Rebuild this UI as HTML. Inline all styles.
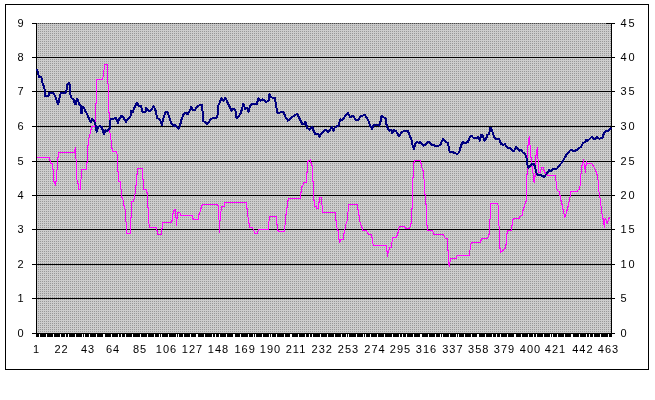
<!DOCTYPE html>
<html><head><meta charset="utf-8"><title>Chart</title>
<style>
html,body{margin:0;padding:0;background:#fff;}
body{width:655px;height:400px;overflow:hidden;}
svg{display:block;}
text{font-family:"Liberation Sans",sans-serif;font-size:11px;fill:#000;letter-spacing:1px;}
</style></head><body>
<svg width="655" height="400" viewBox="0 0 655 400">
<defs>
<pattern id="dots" x="0" y="0" width="2" height="2" patternUnits="userSpaceOnUse">
<rect x="0" y="0" width="2" height="2" fill="#cccccc"/>
<rect x="0" y="1" width="1" height="1" fill="#979797"/>
</pattern>
<pattern id="topdots" x="0" y="0" width="2" height="1" patternUnits="userSpaceOnUse">
<rect x="0" y="0" width="2" height="1" fill="#909090"/>
<rect x="0" y="0" width="1" height="1" fill="#484848"/>
</pattern>
</defs>
<rect x="0" y="0" width="655" height="400" fill="#fff"/>
<g shape-rendering="crispEdges">
<rect x="5.5" y="4.5" width="643" height="365" fill="#fff" stroke="#000" stroke-width="1"/>
<rect x="37" y="24" width="574" height="309" fill="url(#dots)"/>
<rect x="37" y="23" width="574" height="1" fill="url(#topdots)"/>

<rect x="37" y="57" width="574" height="1" fill="#000"/>
<rect x="37" y="91" width="574" height="1" fill="#000"/>
<rect x="37" y="126" width="574" height="1" fill="#000"/>
<rect x="37" y="161" width="574" height="1" fill="#000"/>
<rect x="37" y="195" width="574" height="1" fill="#000"/>
<rect x="37" y="229" width="574" height="1" fill="#000"/>
<rect x="37" y="264" width="574" height="1" fill="#000"/>
<rect x="37" y="298" width="574" height="1" fill="#000"/>
<rect x="36" y="23" width="1" height="311" fill="#000"/>
<rect x="611" y="23" width="1" height="311" fill="#000"/>
<rect x="32" y="333" width="583" height="1" fill="#000"/>
<rect x="32" y="23" width="4" height="1" fill="#000"/>
<rect x="612" y="23" width="3" height="1" fill="#000"/>
<rect x="32" y="57" width="4" height="1" fill="#000"/>
<rect x="612" y="57" width="3" height="1" fill="#000"/>
<rect x="32" y="91" width="4" height="1" fill="#000"/>
<rect x="612" y="91" width="3" height="1" fill="#000"/>
<rect x="32" y="126" width="4" height="1" fill="#000"/>
<rect x="612" y="126" width="3" height="1" fill="#000"/>
<rect x="32" y="161" width="4" height="1" fill="#000"/>
<rect x="612" y="161" width="3" height="1" fill="#000"/>
<rect x="32" y="195" width="4" height="1" fill="#000"/>
<rect x="612" y="195" width="3" height="1" fill="#000"/>
<rect x="32" y="229" width="4" height="1" fill="#000"/>
<rect x="612" y="229" width="3" height="1" fill="#000"/>
<rect x="32" y="264" width="4" height="1" fill="#000"/>
<rect x="612" y="264" width="3" height="1" fill="#000"/>
<rect x="32" y="298" width="4" height="1" fill="#000"/>
<rect x="612" y="298" width="3" height="1" fill="#000"/>
<rect x="606" y="23" width="5" height="1" fill="#000"/>
<path d="M36 334h3v3h-3zM40 334h6v3h-6zM47 334h6v3h-6zM54 334h6v3h-6zM61 334h4v3h-4zM66 334h2v3h-2zM69 334h6v3h-6zM76 334h6v3h-6zM83 334h1v3h-1zM85 334h4v3h-4zM90 334h6v3h-6zM97 334h6v3h-6zM105 334h6v3h-6zM112 334h6v3h-6zM119 334h2v3h-2zM122 334h3v3h-3zM126 334h6v3h-6zM133 334h7v3h-7zM141 334h6v3h-6zM148 334h6v3h-6zM155 334h4v3h-4zM160 334h1v3h-1zM162 334h6v3h-6zM169 334h7v3h-7zM177 334h1v3h-1zM179 334h4v3h-4zM184 334h6v3h-6zM191 334h5v3h-5zM198 334h6v3h-6zM205 334h7v3h-7zM213 334h2v3h-2zM216 334h3v3h-3zM220 334h6v3h-6zM227 334h6v3h-6zM235 334h5v3h-5zM241 334h7v3h-7zM249 334h4v3h-4zM254 334h1v3h-1zM256 334h6v3h-6zM263 334h6v3h-6zM270 334h1v3h-1zM272 334h4v3h-4zM277 334h7v3h-7zM285 334h5v3h-5zM292 334h6v3h-6zM299 334h6v3h-6zM306 334h3v3h-3zM310 334h2v3h-2zM313 334h7v3h-7zM321 334h6v3h-6zM328 334h6v3h-6zM335 334h6v3h-6zM342 334h4v3h-4zM347 334h1v3h-1zM349 334h7v3h-7zM357 334h6v3h-6zM364 334h1v3h-1zM366 334h4v3h-4zM371 334h6v3h-6zM378 334h6v3h-6zM385 334h7v3h-7zM393 334h6v3h-6zM400 334h2v3h-2zM403 334h3v3h-3zM407 334h6v3h-6zM414 334h6v3h-6zM422 334h6v3h-6zM429 334h6v3h-6zM436 334h4v3h-4zM441 334h1v3h-1zM443 334h6v3h-6zM450 334h6v3h-6zM457 334h1v3h-1zM459 334h5v3h-5zM465 334h6v3h-6zM472 334h5v3h-5zM479 334h6v3h-6zM486 334h6v3h-6zM493 334h3v3h-3zM497 334h3v3h-3zM501 334h6v3h-6zM508 334h6v3h-6zM516 334h5v3h-5zM522 334h6v3h-6zM529 334h4v3h-4zM534 334h2v3h-2zM537 334h6v3h-6zM544 334h6v3h-6zM551 334h1v3h-1zM553 334h4v3h-4zM558 334h6v3h-6zM565 334h6v3h-6zM573 334h6v3h-6zM580 334h6v3h-6zM587 334h2v3h-2zM590 334h3v3h-3zM594 334h6v3h-6zM601 334h7v3h-7zM609 334h3v3h-3z" fill="#000"/>
</g>
<path d="M37 157h1v1h-1zM38 157h1v1h-1zM39 157h1v1h-1zM40 157h1v1h-1zM41 157h1v1h-1zM42 157h1v1h-1zM43 157h1v1h-1zM44 157h1v1h-1zM45 157h1v1h-1zM46 157h1v1h-1zM47 157h1v1h-1zM48 157h1v1h-1zM49 157h1v4h-1zM50 160h1v4h-1zM51 163h1v1h-1zM52 163h1v7h-1zM53 169h1v13h-1zM54 181h1v3h-1zM55 181h1v5h-1zM56 170h1v12h-1zM57 157h1v13h-1zM58 152h1v6h-1zM59 152h1v1h-1zM60 152h1v1h-1zM61 152h1v1h-1zM62 152h1v1h-1zM63 152h1v1h-1zM64 152h1v1h-1zM65 152h1v1h-1zM66 152h1v1h-1zM67 152h1v1h-1zM68 152h1v1h-1zM69 152h1v1h-1zM70 152h1v1h-1zM71 152h1v1h-1zM72 152h1v1h-1zM73 152h1v1h-1zM74 149h1v4h-1zM75 147h1v12h-1zM76 159h1v21h-1zM77 180h1v4h-1zM78 183h1v7h-1zM79 189h1v1h-1zM80 179h1v11h-1zM81 169h1v10h-1zM82 169h1v1h-1zM83 169h1v1h-1zM84 169h1v1h-1zM85 169h1v1h-1zM86 162h1v8h-1zM87 145h1v18h-1zM88 138h1v8h-1zM89 134h1v4h-1zM90 129h1v5h-1zM91 126h1v4h-1zM92 126h1v1h-1zM93 126h1v1h-1zM94 122h1v5h-1zM95 103h1v19h-1zM96 79h1v25h-1zM97 79h1v1h-1zM98 79h1v1h-1zM99 79h1v1h-1zM100 79h1v1h-1zM101 79h1v1h-1zM102 77h1v3h-1zM103 70h1v7h-1zM104 64h1v6h-1zM105 64h1v1h-1zM106 64h1v1h-1zM107 64h1v20h-1zM108 84h1v29h-1zM109 112h1v21h-1zM110 133h1v7h-1zM111 140h1v9h-1zM112 148h1v4h-1zM113 151h1v1h-1zM114 151h1v1h-1zM115 151h1v1h-1zM116 151h1v3h-1zM117 154h1v18h-1zM118 171h1v11h-1zM119 181h1v1h-1zM120 181h1v8h-1zM121 189h1v9h-1zM122 197h1v3h-1zM123 200h1v6h-1zM124 205h1v4h-1zM125 209h1v13h-1zM126 222h1v12h-1zM127 233h1v1h-1zM128 233h1v1h-1zM129 233h1v1h-1zM130 217h1v17h-1zM131 201h1v17h-1zM132 201h1v1h-1zM133 199h1v3h-1zM134 194h1v5h-1zM135 185h1v9h-1zM136 174h1v12h-1zM137 168h1v7h-1zM138 168h1v1h-1zM139 168h1v1h-1zM140 168h1v1h-1zM141 168h1v1h-1zM142 168h1v12h-1zM143 179h1v11h-1zM144 189h1v1h-1zM145 189h1v1h-1zM146 189h1v4h-1zM147 192h1v16h-1zM148 207h1v17h-1zM149 224h1v4h-1zM150 227h1v1h-1zM151 227h1v1h-1zM152 227h1v1h-1zM153 227h1v1h-1zM154 227h1v1h-1zM155 227h1v1h-1zM156 227h1v4h-1zM157 230h1v5h-1zM158 234h1v1h-1zM159 234h1v1h-1zM160 234h1v1h-1zM161 228h1v7h-1zM162 222h1v7h-1zM163 222h1v1h-1zM164 222h1v1h-1zM165 222h1v1h-1zM166 222h1v1h-1zM167 222h1v1h-1zM168 222h1v1h-1zM169 222h1v1h-1zM170 222h1v1h-1zM171 220h1v3h-1zM172 213h1v8h-1zM173 210h1v4h-1zM174 209h1v2h-1zM175 209h1v9h-1zM176 217h1v9h-1zM177 212h1v7h-1zM178 212h1v1h-1zM179 212h1v1h-1zM180 213h1v3h-1zM181 215h1v1h-1zM182 215h1v1h-1zM183 215h1v1h-1zM184 215h1v1h-1zM185 215h1v1h-1zM186 215h1v1h-1zM187 215h1v1h-1zM188 215h1v1h-1zM189 215h1v1h-1zM190 215h1v1h-1zM191 215h1v1h-1zM192 215h1v4h-1zM193 218h1v2h-1zM194 219h1v1h-1zM195 219h1v1h-1zM196 219h1v1h-1zM197 219h1v1h-1zM198 214h1v6h-1zM199 212h1v3h-1zM200 208h1v4h-1zM201 205h1v4h-1zM202 204h1v2h-1zM203 204h1v1h-1zM204 204h1v1h-1zM205 204h1v1h-1zM206 204h1v1h-1zM207 204h1v1h-1zM208 204h1v1h-1zM209 204h1v1h-1zM210 204h1v1h-1zM211 204h1v1h-1zM212 204h1v1h-1zM213 204h1v1h-1zM214 204h1v1h-1zM215 204h1v1h-1zM216 204h1v1h-1zM217 204h1v2h-1zM218 205h1v15h-1zM219 220h1v13h-1zM220 211h1v10h-1zM221 206h1v5h-1zM222 206h1v1h-1zM223 206h1v1h-1zM224 202h1v5h-1zM225 202h1v1h-1zM226 202h1v1h-1zM227 202h1v1h-1zM228 202h1v1h-1zM229 202h1v1h-1zM230 202h1v1h-1zM231 202h1v1h-1zM232 202h1v1h-1zM233 202h1v1h-1zM234 202h1v1h-1zM235 202h1v1h-1zM236 202h1v1h-1zM237 202h1v1h-1zM238 202h1v1h-1zM239 202h1v1h-1zM240 202h1v1h-1zM241 202h1v1h-1zM242 202h1v1h-1zM243 202h1v1h-1zM244 202h1v1h-1zM245 202h1v1h-1zM246 202h1v7h-1zM247 208h1v9h-1zM248 217h1v7h-1zM249 223h1v5h-1zM250 227h1v1h-1zM251 227h1v1h-1zM252 227h1v2h-1zM253 229h1v2h-1zM254 231h1v3h-1zM255 233h1v1h-1zM256 233h1v1h-1zM257 231h1v3h-1zM258 229h1v2h-1zM259 229h1v1h-1zM260 229h1v1h-1zM261 229h1v1h-1zM262 229h1v1h-1zM263 229h1v1h-1zM264 229h1v1h-1zM265 229h1v1h-1zM266 229h1v1h-1zM267 229h1v1h-1zM268 221h1v9h-1zM269 216h1v5h-1zM270 216h1v1h-1zM271 216h1v1h-1zM272 216h1v1h-1zM273 216h1v1h-1zM274 216h1v1h-1zM275 216h1v1h-1zM276 216h1v9h-1zM277 224h1v7h-1zM278 230h1v2h-1zM279 231h1v1h-1zM280 231h1v1h-1zM281 231h1v1h-1zM282 231h1v1h-1zM283 231h1v1h-1zM284 225h1v7h-1zM285 214h1v11h-1zM286 207h1v8h-1zM287 200h1v8h-1zM288 198h1v3h-1zM289 198h1v1h-1zM290 198h1v1h-1zM291 198h1v1h-1zM292 198h1v1h-1zM293 198h1v1h-1zM294 198h1v1h-1zM295 198h1v1h-1zM296 198h1v1h-1zM297 198h1v1h-1zM298 198h1v1h-1zM299 198h1v1h-1zM300 192h1v7h-1zM301 186h1v7h-1zM302 185h1v2h-1zM303 182h1v3h-1zM304 182h1v1h-1zM305 182h1v1h-1zM306 172h1v11h-1zM307 161h1v12h-1zM308 160h1v2h-1zM309 160h1v1h-1zM310 159h1v4h-1zM311 162h1v4h-1zM312 165h1v17h-1zM313 181h1v20h-1zM314 200h1v7h-1zM315 206h1v1h-1zM316 206h1v3h-1zM317 208h1v1h-1zM318 202h1v7h-1zM319 197h1v6h-1zM320 197h1v1h-1zM321 197h1v8h-1zM322 205h1v8h-1zM323 212h1v1h-1zM324 212h1v1h-1zM325 212h1v1h-1zM326 212h1v1h-1zM327 212h1v1h-1zM328 212h1v1h-1zM329 212h1v1h-1zM330 212h1v1h-1zM331 212h1v1h-1zM332 212h1v1h-1zM333 212h1v1h-1zM334 212h1v1h-1zM335 212h1v9h-1zM336 220h1v8h-1zM337 228h1v3h-1zM338 230h1v10h-1zM339 239h1v4h-1zM340 239h1v3h-1zM341 239h1v1h-1zM342 239h1v1h-1zM343 233h1v7h-1zM344 229h1v5h-1zM345 224h1v5h-1zM346 221h1v3h-1zM347 212h1v9h-1zM348 204h1v8h-1zM349 204h1v1h-1zM350 204h1v1h-1zM351 204h1v1h-1zM352 204h1v1h-1zM353 204h1v1h-1zM354 204h1v1h-1zM355 204h1v1h-1zM356 204h1v1h-1zM357 204h1v6h-1zM358 209h1v7h-1zM359 215h1v7h-1zM360 222h1v3h-1zM361 225h1v3h-1zM362 227h1v4h-1zM363 230h1v1h-1zM364 230h1v1h-1zM365 230h1v1h-1zM366 230h1v2h-1zM367 232h1v2h-1zM368 233h1v2h-1zM369 234h1v1h-1zM370 234h1v1h-1zM371 234h1v4h-1zM372 237h1v7h-1zM373 244h1v2h-1zM374 245h1v1h-1zM375 245h1v1h-1zM376 245h1v1h-1zM377 245h1v1h-1zM378 245h1v1h-1zM379 245h1v1h-1zM380 245h1v1h-1zM381 245h1v1h-1zM382 245h1v1h-1zM383 245h1v1h-1zM384 245h1v1h-1zM385 245h1v1h-1zM386 245h1v7h-1zM387 251h1v6h-1zM388 250h1v3h-1zM389 247h1v3h-1zM390 247h1v1h-1zM391 242h1v6h-1zM392 237h1v5h-1zM393 237h1v1h-1zM394 237h1v1h-1zM395 237h1v1h-1zM396 235h1v3h-1zM397 232h1v4h-1zM398 228h1v5h-1zM399 226h1v2h-1zM400 226h1v1h-1zM401 226h1v1h-1zM402 226h1v1h-1zM403 226h1v1h-1zM404 226h1v2h-1zM405 227h1v2h-1zM406 228h1v1h-1zM407 228h1v1h-1zM408 228h1v1h-1zM409 227h1v2h-1zM410 223h1v4h-1zM411 208h1v16h-1zM412 177h1v32h-1zM413 162h1v16h-1zM414 160h1v3h-1zM415 160h1v1h-1zM416 160h1v1h-1zM417 160h1v1h-1zM418 160h1v1h-1zM419 160h1v1h-1zM420 160h1v4h-1zM421 163h1v5h-1zM422 168h1v3h-1zM423 170h1v9h-1zM424 179h1v16h-1zM425 194h1v11h-1zM426 204h1v22h-1zM427 225h1v6h-1zM428 230h1v1h-1zM429 230h1v1h-1zM430 230h1v1h-1zM431 230h1v1h-1zM432 230h1v2h-1zM433 232h1v3h-1zM434 234h1v1h-1zM435 234h1v1h-1zM436 234h1v1h-1zM437 234h1v1h-1zM438 234h1v1h-1zM439 234h1v1h-1zM440 234h1v1h-1zM441 234h1v1h-1zM442 234h1v1h-1zM443 234h1v2h-1zM444 236h1v2h-1zM445 238h1v1h-1zM446 238h1v1h-1zM447 238h1v13h-1zM448 250h1v15h-1zM449 262h1v5h-1zM450 258h1v4h-1zM451 258h1v1h-1zM452 258h1v1h-1zM453 258h1v1h-1zM454 258h1v1h-1zM455 258h1v1h-1zM456 256h1v3h-1zM457 255h1v1h-1zM458 255h1v1h-1zM459 255h1v1h-1zM460 255h1v1h-1zM461 255h1v1h-1zM462 255h1v1h-1zM463 255h1v1h-1zM464 255h1v1h-1zM465 255h1v1h-1zM466 255h1v1h-1zM467 255h1v1h-1zM468 255h1v1h-1zM469 250h1v6h-1zM470 244h1v6h-1zM471 242h1v2h-1zM472 242h1v1h-1zM473 242h1v1h-1zM474 242h1v1h-1zM475 242h1v1h-1zM476 242h1v1h-1zM477 242h1v1h-1zM478 242h1v1h-1zM479 242h1v1h-1zM480 240h1v3h-1zM481 238h1v3h-1zM482 238h1v1h-1zM483 238h1v1h-1zM484 238h1v1h-1zM485 238h1v1h-1zM486 238h1v1h-1zM487 237h1v2h-1zM488 234h1v3h-1zM489 219h1v16h-1zM490 203h1v16h-1zM491 203h1v1h-1zM492 203h1v1h-1zM493 203h1v1h-1zM494 203h1v1h-1zM495 203h1v1h-1zM496 203h1v1h-1zM497 203h1v2h-1zM498 205h1v21h-1zM499 226h1v23h-1zM500 248h1v5h-1zM501 251h1v1h-1zM502 250h1v2h-1zM503 249h1v2h-1zM504 248h1v1h-1zM505 244h1v5h-1zM506 233h1v12h-1zM507 230h1v4h-1zM508 230h1v1h-1zM509 230h1v1h-1zM510 230h1v1h-1zM511 225h1v6h-1zM512 219h1v7h-1zM513 218h1v2h-1zM514 218h1v1h-1zM515 218h1v1h-1zM516 218h1v1h-1zM517 218h1v1h-1zM518 218h1v1h-1zM519 216h1v3h-1zM520 216h1v1h-1zM521 215h1v1h-1zM522 210h1v6h-1zM523 207h1v4h-1zM524 204h1v4h-1zM525 201h1v3h-1zM526 174h1v28h-1zM527 145h1v30h-1zM528 138h1v8h-1zM529 136h1v9h-1zM530 145h1v13h-1zM531 157h1v10h-1zM532 166h1v7h-1zM533 173h1v9h-1zM534 176h1v7h-1zM535 155h1v22h-1zM536 149h1v7h-1zM537 147h1v12h-1zM538 159h1v14h-1zM539 172h1v1h-1zM540 170h1v3h-1zM541 167h1v3h-1zM542 167h1v1h-1zM543 167h1v4h-1zM544 170h1v3h-1zM545 172h1v2h-1zM546 173h1v2h-1zM547 174h1v2h-1zM548 175h1v1h-1zM549 175h1v1h-1zM550 175h1v1h-1zM551 175h1v1h-1zM552 175h1v1h-1zM553 175h1v1h-1zM554 175h1v1h-1zM555 175h1v6h-1zM556 181h1v8h-1zM557 189h1v2h-1zM558 191h1v1h-1zM559 191h1v5h-1zM560 195h1v6h-1zM561 200h1v5h-1zM562 204h1v6h-1zM563 209h1v5h-1zM564 214h1v4h-1zM565 214h1v3h-1zM566 210h1v4h-1zM567 206h1v5h-1zM568 202h1v5h-1zM569 197h1v5h-1zM570 191h1v6h-1zM571 191h1v1h-1zM572 191h1v1h-1zM573 191h1v1h-1zM574 191h1v1h-1zM575 191h1v1h-1zM576 191h1v1h-1zM577 190h1v2h-1zM578 189h1v1h-1zM579 186h1v4h-1zM580 174h1v12h-1zM581 165h1v9h-1zM582 162h1v4h-1zM583 159h1v4h-1zM584 163h1v6h-1zM585 165h1v8h-1zM586 161h1v5h-1zM587 163h1v1h-1zM588 163h1v1h-1zM589 163h1v1h-1zM590 163h1v1h-1zM591 163h1v1h-1zM592 164h1v2h-1zM593 165h1v2h-1zM594 167h1v2h-1zM595 169h1v3h-1zM596 171h1v4h-1zM597 174h1v6h-1zM598 180h1v12h-1zM599 192h1v6h-1zM600 198h1v8h-1zM601 206h1v8h-1zM602 214h1v5h-1zM603 218h1v7h-1zM604 219h1v9h-1zM605 218h1v2h-1zM606 220h1v3h-1zM607 221h1v3h-1zM608 218h1v3h-1zM609 217h1v2h-1z" fill="#ff00ff" shape-rendering="crispEdges"/>
<path d="M36 69h1v2h-1zM37 69h1v6h-1zM38 71h1v7h-1zM39 75h1v3h-1zM40 76h1v2h-1zM41 76h1v7h-1zM42 78h1v8h-1zM43 83h1v6h-1zM44 85h1v12h-1zM45 89h1v8h-1zM46 95h1v2h-1zM47 95h1v2h-1zM48 92h1v5h-1zM49 92h1v4h-1zM50 92h1v2h-1zM51 92h1v2h-1zM52 92h1v2h-1zM53 92h1v3h-1zM54 93h1v4h-1zM55 95h1v5h-1zM56 97h1v6h-1zM57 100h1v5h-1zM58 98h1v7h-1zM59 94h1v9h-1zM60 92h1v6h-1zM61 92h1v2h-1zM62 92h1v2h-1zM63 92h1v2h-1zM64 92h1v2h-1zM65 90h1v4h-1zM66 84h1v9h-1zM67 83h1v7h-1zM68 82h1v3h-1zM69 82h1v13h-1zM70 84h1v14h-1zM71 95h1v4h-1zM72 98h1v2h-1zM73 98h1v5h-1zM74 99h1v6h-1zM75 100h1v5h-1zM76 98h1v7h-1zM77 98h1v4h-1zM78 99h1v6h-1zM79 102h1v4h-1zM80 104h1v10h-1zM81 105h1v9h-1zM82 106h1v8h-1zM83 106h1v3h-1zM84 107h1v5h-1zM85 109h1v4h-1zM86 111h1v4h-1zM87 113h1v5h-1zM88 115h1v5h-1zM89 117h1v5h-1zM90 120h1v3h-1zM91 118h1v5h-1zM92 118h1v3h-1zM93 119h1v3h-1zM94 120h1v5h-1zM95 122h1v9h-1zM96 125h1v8h-1zM97 126h1v6h-1zM98 126h1v3h-1zM99 125h1v2h-1zM100 125h1v3h-1zM101 126h1v4h-1zM102 126h1v7h-1zM103 129h1v6h-1zM104 130h1v5h-1zM105 129h1v4h-1zM106 130h1v2h-1zM107 129h1v3h-1zM108 128h1v3h-1zM109 120h1v10h-1zM110 118h1v11h-1zM111 118h1v2h-1zM112 118h1v2h-1zM113 118h1v2h-1zM114 117h1v2h-1zM115 117h1v3h-1zM116 117h1v5h-1zM117 119h1v5h-1zM118 118h1v6h-1zM119 117h1v4h-1zM120 115h1v4h-1zM121 115h1v3h-1zM122 115h1v3h-1zM123 116h1v4h-1zM124 117h1v4h-1zM125 119h1v4h-1zM126 119h1v4h-1zM127 118h1v3h-1zM128 117h1v3h-1zM129 116h1v3h-1zM130 110h1v8h-1zM131 110h1v6h-1zM132 110h1v3h-1zM133 107h1v6h-1zM134 105h1v5h-1zM135 103h1v5h-1zM136 102h1v4h-1zM137 102h1v4h-1zM138 103h1v4h-1zM139 105h1v2h-1zM140 105h1v3h-1zM141 105h1v7h-1zM142 108h1v5h-1zM143 111h1v2h-1zM144 111h1v2h-1zM145 107h1v6h-1zM146 107h1v5h-1zM147 108h1v3h-1zM148 109h1v3h-1zM149 110h1v2h-1zM150 109h1v3h-1zM151 108h1v3h-1zM152 106h1v4h-1zM153 105h1v3h-1zM154 106h1v5h-1zM155 108h1v7h-1zM156 110h1v9h-1zM157 115h1v4h-1zM158 118h1v2h-1zM159 118h1v3h-1zM160 119h1v5h-1zM161 121h1v5h-1zM162 118h1v8h-1zM163 115h1v7h-1zM164 112h1v6h-1zM165 111h1v4h-1zM166 111h1v2h-1zM167 111h1v4h-1zM168 112h1v6h-1zM169 115h1v6h-1zM170 118h1v6h-1zM171 121h1v4h-1zM172 123h1v3h-1zM173 124h1v3h-1zM174 124h1v3h-1zM175 124h1v3h-1zM176 125h1v3h-1zM177 126h1v3h-1zM178 127h1v3h-1zM179 123h1v6h-1zM180 119h1v8h-1zM181 117h1v7h-1zM182 114h1v6h-1zM183 113h1v4h-1zM184 112h1v3h-1zM185 112h1v2h-1zM186 112h1v3h-1zM187 112h1v3h-1zM188 111h1v4h-1zM189 109h1v4h-1zM190 106h1v5h-1zM191 106h1v4h-1zM192 107h1v4h-1zM193 109h1v2h-1zM194 109h1v2h-1zM195 107h1v4h-1zM196 106h1v3h-1zM197 105h1v3h-1zM198 105h1v2h-1zM199 104h1v2h-1zM200 104h1v2h-1zM201 104h1v7h-1zM202 104h1v18h-1zM203 111h1v11h-1zM204 121h1v2h-1zM205 121h1v3h-1zM206 122h1v3h-1zM207 122h1v3h-1zM208 121h1v3h-1zM209 119h1v4h-1zM210 118h1v3h-1zM211 118h1v2h-1zM212 117h1v2h-1zM213 117h1v2h-1zM214 117h1v2h-1zM215 117h1v2h-1zM216 115h1v4h-1zM217 105h1v13h-1zM218 103h1v12h-1zM219 100h1v5h-1zM220 98h1v5h-1zM221 97h1v4h-1zM222 98h1v3h-1zM223 99h1v3h-1zM224 97h1v4h-1zM225 97h1v3h-1zM226 98h1v5h-1zM227 100h1v5h-1zM228 102h1v5h-1zM229 104h1v5h-1zM230 106h1v5h-1zM231 108h1v4h-1zM232 108h1v3h-1zM233 108h1v2h-1zM234 108h1v3h-1zM235 109h1v9h-1zM236 111h1v8h-1zM237 116h1v3h-1zM238 115h1v3h-1zM239 113h1v4h-1zM240 110h1v5h-1zM241 107h1v7h-1zM242 103h1v8h-1zM243 103h1v4h-1zM244 104h1v6h-1zM245 107h1v3h-1zM246 107h1v2h-1zM247 107h1v5h-1zM248 108h1v5h-1zM249 105h1v7h-1zM250 104h1v4h-1zM251 103h1v3h-1zM252 103h1v2h-1zM253 103h1v2h-1zM254 103h1v2h-1zM255 103h1v2h-1zM256 101h1v4h-1zM257 98h1v7h-1zM258 97h1v5h-1zM259 98h1v3h-1zM260 99h1v3h-1zM261 99h1v2h-1zM262 98h1v3h-1zM263 99h1v2h-1zM264 99h1v3h-1zM265 100h1v3h-1zM266 101h1v2h-1zM267 100h1v2h-1zM268 94h1v8h-1zM269 93h1v8h-1zM270 94h1v4h-1zM271 96h1v2h-1zM272 97h1v2h-1zM273 97h1v2h-1zM274 97h1v5h-1zM275 97h1v11h-1zM276 102h1v11h-1zM277 108h1v6h-1zM278 112h1v2h-1zM279 112h1v2h-1zM280 111h1v2h-1zM281 111h1v2h-1zM282 111h1v2h-1zM283 111h1v4h-1zM284 112h1v5h-1zM285 114h1v5h-1zM286 117h1v3h-1zM287 118h1v4h-1zM288 119h1v2h-1zM289 118h1v3h-1zM290 117h1v3h-1zM291 116h1v3h-1zM292 116h1v2h-1zM293 115h1v2h-1zM294 114h1v3h-1zM295 114h1v2h-1zM296 113h1v2h-1zM297 113h1v4h-1zM298 114h1v5h-1zM299 116h1v5h-1zM300 118h1v5h-1zM301 120h1v5h-1zM302 122h1v3h-1zM303 123h1v2h-1zM304 121h1v4h-1zM305 121h1v5h-1zM306 122h1v7h-1zM307 125h1v4h-1zM308 128h1v2h-1zM309 128h1v3h-1zM310 127h1v3h-1zM311 126h1v3h-1zM312 126h1v5h-1zM313 127h1v6h-1zM314 130h1v5h-1zM315 132h1v3h-1zM316 133h1v2h-1zM317 133h1v2h-1zM318 133h1v4h-1zM319 134h1v4h-1zM320 133h1v4h-1zM321 132h1v3h-1zM322 131h1v3h-1zM323 130h1v3h-1zM324 129h1v3h-1zM325 129h1v2h-1zM326 129h1v3h-1zM327 130h1v3h-1zM328 130h1v3h-1zM329 129h1v3h-1zM330 127h1v4h-1zM331 126h1v3h-1zM332 126h1v5h-1zM333 128h1v4h-1zM334 127h1v4h-1zM335 126h1v2h-1zM336 125h1v3h-1zM337 125h1v2h-1zM338 122h1v5h-1zM339 119h1v7h-1zM340 118h1v4h-1zM341 119h1v2h-1zM342 118h1v3h-1zM343 117h1v3h-1zM344 115h1v4h-1zM345 114h1v3h-1zM346 113h1v3h-1zM347 112h1v3h-1zM348 112h1v4h-1zM349 114h1v4h-1zM350 116h1v2h-1zM351 115h1v3h-1zM352 115h1v2h-1zM353 115h1v3h-1zM354 116h1v4h-1zM355 118h1v3h-1zM356 119h1v2h-1zM357 119h1v2h-1zM358 118h1v3h-1zM359 116h1v4h-1zM360 115h1v3h-1zM361 115h1v2h-1zM362 115h1v2h-1zM363 114h1v2h-1zM364 114h1v2h-1zM365 114h1v4h-1zM366 116h1v3h-1zM367 117h1v4h-1zM368 119h1v5h-1zM369 121h1v6h-1zM370 124h1v4h-1zM371 126h1v4h-1zM372 125h1v5h-1zM373 124h1v4h-1zM374 124h1v2h-1zM375 124h1v2h-1zM376 124h1v2h-1zM377 124h1v2h-1zM378 124h1v2h-1zM379 121h1v6h-1zM380 116h1v9h-1zM381 115h1v7h-1zM382 115h1v3h-1zM383 116h1v2h-1zM384 117h1v2h-1zM385 117h1v8h-1zM386 118h1v10h-1zM387 124h1v6h-1zM388 127h1v4h-1zM389 129h1v3h-1zM390 129h1v2h-1zM391 129h1v5h-1zM392 130h1v4h-1zM393 129h1v4h-1zM394 129h1v3h-1zM395 130h1v2h-1zM396 130h1v4h-1zM397 132h1v4h-1zM398 133h1v4h-1zM399 134h1v3h-1zM400 132h1v4h-1zM401 131h1v3h-1zM402 131h1v2h-1zM403 130h1v2h-1zM404 130h1v2h-1zM405 130h1v2h-1zM406 130h1v2h-1zM407 130h1v3h-1zM408 130h1v5h-1zM409 132h1v6h-1zM410 135h1v5h-1zM411 137h1v8h-1zM412 140h1v8h-1zM413 145h1v5h-1zM414 143h1v7h-1zM415 142h1v5h-1zM416 141h1v3h-1zM417 141h1v2h-1zM418 142h1v2h-1zM419 141h1v3h-1zM420 141h1v3h-1zM421 142h1v3h-1zM422 143h1v3h-1zM423 144h1v3h-1zM424 144h1v2h-1zM425 143h1v3h-1zM426 142h1v3h-1zM427 141h1v3h-1zM428 141h1v2h-1zM429 141h1v3h-1zM430 142h1v3h-1zM431 143h1v3h-1zM432 144h1v2h-1zM433 144h1v2h-1zM434 144h1v3h-1zM435 145h1v2h-1zM436 145h1v2h-1zM437 145h1v2h-1zM438 145h1v2h-1zM439 144h1v2h-1zM440 142h1v4h-1zM441 140h1v5h-1zM442 138h1v4h-1zM443 138h1v3h-1zM444 139h1v3h-1zM445 140h1v3h-1zM446 141h1v2h-1zM447 142h1v4h-1zM448 142h1v9h-1zM449 146h1v7h-1zM450 151h1v2h-1zM451 151h1v2h-1zM452 151h1v2h-1zM453 151h1v3h-1zM454 152h1v2h-1zM455 152h1v2h-1zM456 153h1v2h-1zM457 153h1v2h-1zM458 151h1v3h-1zM459 147h1v6h-1zM460 144h1v7h-1zM461 142h1v6h-1zM462 141h1v4h-1zM463 141h1v3h-1zM464 142h1v2h-1zM465 142h1v2h-1zM466 141h1v3h-1zM467 140h1v3h-1zM468 138h1v5h-1zM469 136h1v5h-1zM470 135h1v3h-1zM471 135h1v2h-1zM472 135h1v3h-1zM473 137h1v2h-1zM474 137h1v2h-1zM475 137h1v2h-1zM476 137h1v2h-1zM477 136h1v3h-1zM478 136h1v4h-1zM479 137h1v5h-1zM480 134h1v7h-1zM481 134h1v4h-1zM482 134h1v4h-1zM483 135h1v6h-1zM484 138h1v4h-1zM485 137h1v4h-1zM486 134h1v6h-1zM487 134h1v4h-1zM488 132h1v3h-1zM489 127h1v8h-1zM490 127h1v5h-1zM491 127h1v5h-1zM492 129h1v6h-1zM493 132h1v6h-1zM494 135h1v4h-1zM495 137h1v3h-1zM496 138h1v2h-1zM497 138h1v2h-1zM498 138h1v2h-1zM499 138h1v5h-1zM500 140h1v5h-1zM501 142h1v3h-1zM502 143h1v3h-1zM503 144h1v2h-1zM504 143h1v2h-1zM505 143h1v4h-1zM506 145h1v3h-1zM507 146h1v3h-1zM508 147h1v2h-1zM509 147h1v2h-1zM510 147h1v3h-1zM511 148h1v3h-1zM512 149h1v3h-1zM513 150h1v2h-1zM514 148h1v4h-1zM515 146h1v4h-1zM516 146h1v3h-1zM517 147h1v3h-1zM518 148h1v3h-1zM519 149h1v3h-1zM520 149h1v2h-1zM521 149h1v3h-1zM522 150h1v3h-1zM523 152h1v2h-1zM524 152h1v3h-1zM525 153h1v5h-1zM526 155h1v10h-1zM527 158h1v10h-1zM528 165h1v4h-1zM529 165h1v3h-1zM530 164h1v3h-1zM531 163h1v3h-1zM532 163h1v2h-1zM533 163h1v3h-1zM534 163h1v6h-1zM535 165h1v8h-1zM536 169h1v6h-1zM537 173h1v3h-1zM538 174h1v2h-1zM539 174h1v2h-1zM540 174h1v2h-1zM541 174h1v3h-1zM542 175h1v2h-1zM543 175h1v3h-1zM544 175h1v3h-1zM545 174h1v3h-1zM546 172h1v3h-1zM547 171h1v3h-1zM548 169h1v4h-1zM549 169h1v3h-1zM550 170h1v2h-1zM551 169h1v3h-1zM552 168h1v3h-1zM553 168h1v2h-1zM554 168h1v2h-1zM555 168h1v2h-1zM556 168h1v2h-1zM557 166h1v3h-1zM558 165h1v3h-1zM559 164h1v3h-1zM560 163h1v3h-1zM561 161h1v3h-1zM562 160h1v3h-1zM563 158h1v4h-1zM564 156h1v4h-1zM565 154h1v4h-1zM566 153h1v4h-1zM567 152h1v3h-1zM568 151h1v3h-1zM569 150h1v3h-1zM570 149h1v2h-1zM571 149h1v2h-1zM572 149h1v3h-1zM573 150h1v2h-1zM574 150h1v2h-1zM575 149h1v3h-1zM576 149h1v2h-1zM577 148h1v3h-1zM578 147h1v3h-1zM579 147h1v2h-1zM580 146h1v2h-1zM581 144h1v4h-1zM582 142h1v4h-1zM583 142h1v2h-1zM584 141h1v2h-1zM585 139h1v4h-1zM586 139h1v3h-1zM587 139h1v3h-1zM588 139h1v2h-1zM589 138h1v2h-1zM590 137h1v2h-1zM591 136h1v2h-1zM592 136h1v3h-1zM593 137h1v3h-1zM594 138h1v2h-1zM595 137h1v3h-1zM596 136h1v3h-1zM597 136h1v3h-1zM598 137h1v2h-1zM599 138h1v2h-1zM600 137h1v2h-1zM601 137h1v2h-1zM602 134h1v5h-1zM603 132h1v6h-1zM604 131h1v4h-1zM605 130h1v3h-1zM606 130h1v2h-1zM607 130h1v2h-1zM608 129h1v3h-1zM609 128h1v3h-1zM610 127h1v3h-1zM611 128h1v1h-1z" fill="#000080" shape-rendering="crispEdges"/>
<text x="24.6" y="27" text-anchor="end">9</text>
<text x="620.5" y="27" style="letter-spacing:2px">45</text>
<text x="24.6" y="61" text-anchor="end">8</text>
<text x="620.5" y="61" style="letter-spacing:2px">40</text>
<text x="24.6" y="95" text-anchor="end">7</text>
<text x="620.5" y="95" style="letter-spacing:2px">35</text>
<text x="24.6" y="130" text-anchor="end">6</text>
<text x="620.5" y="130" style="letter-spacing:2px">30</text>
<text x="24.6" y="165" text-anchor="end">5</text>
<text x="620.5" y="165" style="letter-spacing:2px">25</text>
<text x="24.6" y="199" text-anchor="end">4</text>
<text x="620.5" y="199" style="letter-spacing:2px">20</text>
<text x="24.6" y="233" text-anchor="end">3</text>
<text x="620.5" y="233" style="letter-spacing:2px">15</text>
<text x="24.6" y="268" text-anchor="end">2</text>
<text x="620.5" y="268" style="letter-spacing:2px">10</text>
<text x="24.6" y="302" text-anchor="end">1</text>
<text x="620.5" y="302" style="letter-spacing:2px">5</text>
<text x="24.6" y="337" text-anchor="end">0</text>
<text x="620.5" y="337" style="letter-spacing:2px">0</text>
<text x="36.5" y="353" text-anchor="middle">1</text>
<text x="61.5" y="353" text-anchor="middle">22</text>
<text x="88.0" y="353" text-anchor="middle">43</text>
<text x="113.1" y="353" text-anchor="middle">64</text>
<text x="140.0" y="353" text-anchor="middle">85</text>
<text x="166.5" y="353" text-anchor="middle">106</text>
<text x="192.5" y="353" text-anchor="middle">127</text>
<text x="218.5" y="353" text-anchor="middle">148</text>
<text x="245.1" y="353" text-anchor="middle">169</text>
<text x="270.5" y="353" text-anchor="middle">190</text>
<text x="296.0" y="353" text-anchor="middle">211</text>
<text x="322.2" y="353" text-anchor="middle">232</text>
<text x="348.5" y="353" text-anchor="middle">253</text>
<text x="375.0" y="353" text-anchor="middle">274</text>
<text x="400.5" y="353" text-anchor="middle">295</text>
<text x="426.5" y="353" text-anchor="middle">316</text>
<text x="452.9" y="353" text-anchor="middle">337</text>
<text x="478.8" y="353" text-anchor="middle">358</text>
<text x="504.5" y="353" text-anchor="middle">379</text>
<text x="530.5" y="353" text-anchor="middle">400</text>
<text x="555.5" y="353" text-anchor="middle">421</text>
<text x="582.9" y="353" text-anchor="middle">442</text>
<text x="608.5" y="353" text-anchor="middle">463</text>
</svg></body></html>
